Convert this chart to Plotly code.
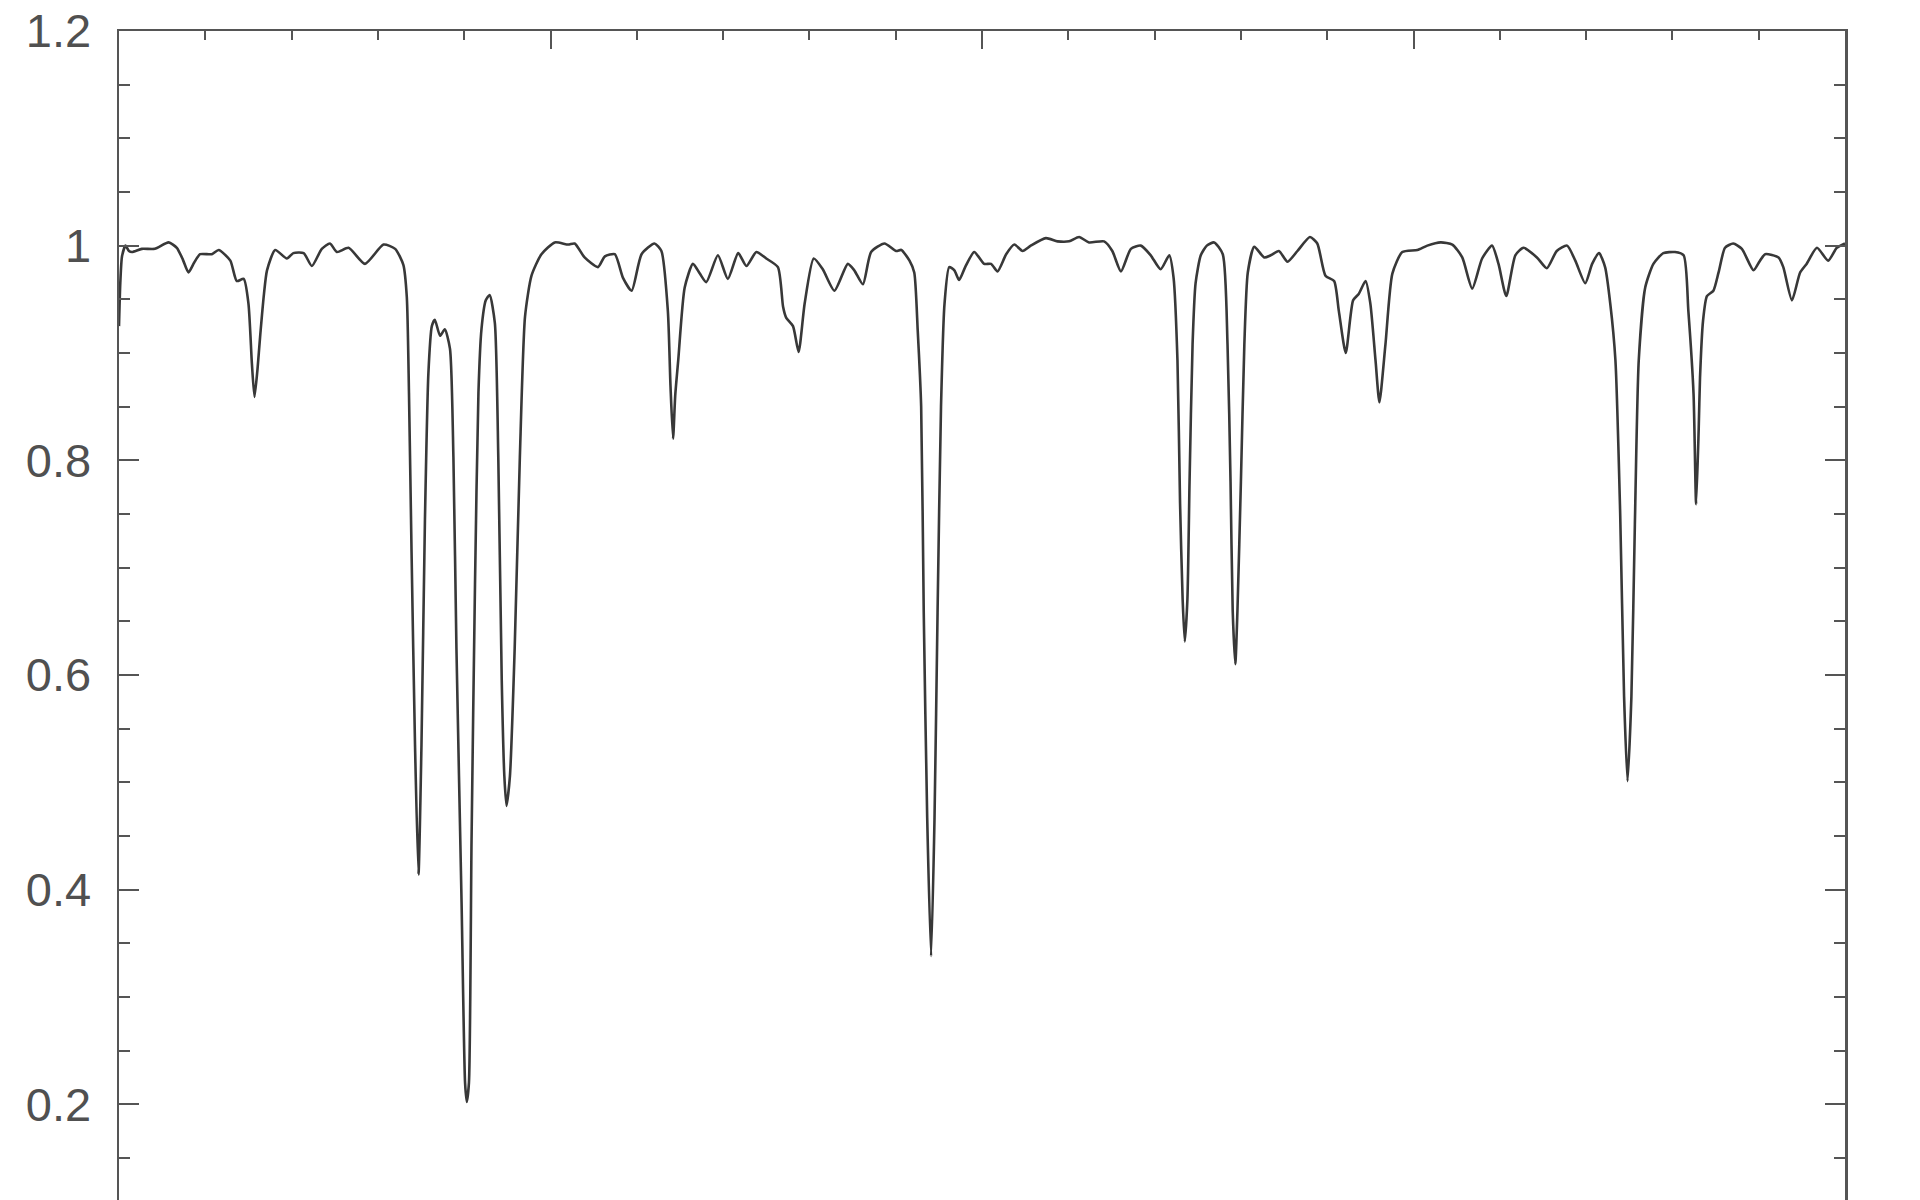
import plotly.graph_objects as go

# Wavelength (arbitrary Å scale) and normalized flux
wavelength = [
    6100.00, 6100.03, 6100.07, 6100.15, 6100.23, 6100.30, 6100.53, 6100.83, 6101.15, 6101.34,
    6101.48, 6101.61, 6101.74, 6101.88, 6102.15, 6102.31, 6102.58, 6102.73, 6102.89, 6103.00,
    6103.08, 6103.14, 6103.21, 6103.27, 6103.36, 6103.43, 6103.62, 6103.89, 6104.04, 6104.28,
    6104.47, 6104.70, 6104.89, 6105.05, 6105.32, 6105.70, 6106.13, 6106.40, 6106.59, 6106.67,
    6106.72, 6106.78, 6106.86, 6106.94, 6107.01, 6107.09, 6107.17, 6107.25, 6107.32, 6107.44,
    6107.55, 6107.67, 6107.75, 6107.82, 6107.94, 6108.02, 6108.06, 6108.11, 6108.17, 6108.25,
    6108.33, 6108.40, 6108.50, 6108.59, 6108.71, 6108.79, 6108.87, 6108.93, 6108.98, 6109.06,
    6109.17, 6109.29, 6109.41, 6109.56, 6109.79, 6110.10, 6110.41, 6110.56, 6110.79, 6111.10,
    6111.26, 6111.49, 6111.68, 6111.88, 6112.11, 6112.41, 6112.57, 6112.72, 6112.78, 6112.84,
    6112.89, 6112.96, 6113.11, 6113.30, 6113.46, 6113.61, 6113.88, 6114.11, 6114.35, 6114.54,
    6114.77, 6115.00, 6115.27, 6115.39, 6115.46, 6115.62, 6115.75, 6115.89, 6116.10, 6116.31,
    6116.58, 6116.89, 6117.04, 6117.24, 6117.43, 6117.74, 6118.01, 6118.13, 6118.32, 6118.43,
    6118.51, 6118.59, 6118.65, 6118.73, 6118.82, 6118.90, 6118.97, 6119.05, 6119.13, 6119.24,
    6119.36, 6119.47, 6119.61, 6119.82, 6120.05, 6120.21, 6120.36, 6120.56, 6120.75, 6120.94,
    6121.13, 6121.48, 6121.75, 6122.02, 6122.25, 6122.48, 6122.83, 6123.02, 6123.22, 6123.45,
    6123.68, 6123.91, 6124.14, 6124.34, 6124.44, 6124.53, 6124.59, 6124.65, 6124.70, 6124.76,
    6124.81, 6124.88, 6124.95, 6125.07, 6125.21, 6125.38, 6125.58, 6125.69, 6125.76, 6125.81,
    6125.87, 6125.92, 6126.00, 6126.08, 6126.16, 6126.31, 6126.54, 6126.69, 6126.88, 6127.08,
    6127.31, 6127.60, 6127.77, 6127.96, 6128.16, 6128.27, 6128.43, 6128.60, 6128.73, 6128.89,
    6129.00, 6129.12, 6129.21, 6129.35, 6129.51, 6129.74, 6130.09, 6130.32, 6130.63, 6130.90,
    6131.13, 6131.36, 6131.59, 6131.82, 6131.97, 6132.15, 6132.36, 6132.55, 6132.86, 6133.09,
    6133.32, 6133.56, 6133.75, 6133.98, 6134.14, 6134.30, 6134.44, 6134.56, 6134.68, 6134.79,
    6134.88, 6134.96, 6135.05, 6135.13, 6135.22, 6135.37, 6135.56, 6135.79, 6136.06, 6136.26,
    6136.37, 6136.49, 6136.55, 6136.61, 6136.64, 6136.71, 6136.80, 6136.95, 6137.07, 6137.22,
    6137.41, 6137.61, 6137.88, 6138.03, 6138.15, 6138.46, 6138.57, 6138.77, 6138.96, 6139.11,
    6139.35, 6139.61, 6139.81, 6140.00,
]

flux = [
    0.925, 0.965, 0.990, 1.000, 0.995, 0.994, 0.997, 0.997, 1.003, 0.998,
    0.987, 0.975, 0.984, 0.992, 0.992, 0.996, 0.986, 0.967, 0.969, 0.946,
    0.890, 0.859, 0.885, 0.915, 0.955, 0.977, 0.996, 0.988, 0.993, 0.993,
    0.981, 0.997, 1.002, 0.994, 0.998, 0.983, 1.001, 0.997, 0.982, 0.952,
    0.863, 0.714, 0.535, 0.414, 0.535, 0.744, 0.881, 0.925, 0.931, 0.916,
    0.922, 0.904, 0.803, 0.625, 0.386, 0.220, 0.202, 0.220, 0.446, 0.684,
    0.863, 0.922, 0.949, 0.954, 0.928, 0.803, 0.595, 0.506, 0.478, 0.506,
    0.625, 0.803, 0.934, 0.972, 0.992, 1.003, 1.001, 1.002, 0.989, 0.980,
    0.990, 0.992, 0.970, 0.958, 0.992, 1.002, 0.995, 0.939, 0.870, 0.820,
    0.860, 0.893, 0.961, 0.983, 0.974, 0.966, 0.991, 0.969, 0.993, 0.981,
    0.994, 0.988, 0.980, 0.943, 0.933, 0.925, 0.901, 0.946, 0.988, 0.978,
    0.958, 0.983, 0.977, 0.964, 0.994, 1.002, 0.995, 0.996, 0.986, 0.975,
    0.921, 0.850, 0.658, 0.467, 0.338, 0.467, 0.658, 0.850, 0.945, 0.980,
    0.977, 0.968, 0.980, 0.994, 0.983, 0.983, 0.976, 0.992, 1.001, 0.995,
    1.000, 1.007, 1.004, 1.004, 1.008, 1.003, 1.004, 0.995, 0.976, 0.997,
    1.000, 0.991, 0.978, 0.991, 0.970, 0.893, 0.760, 0.670, 0.631, 0.670,
    0.780, 0.908, 0.965, 0.991, 1.000, 1.003, 0.992, 0.908, 0.780, 0.660,
    0.610, 0.660, 0.780, 0.908, 0.975, 0.999, 0.989, 0.991, 0.995, 0.985,
    0.995, 1.008, 1.002, 0.972, 0.967, 0.939, 0.900, 0.949, 0.955, 0.967,
    0.946, 0.893, 0.854, 0.908, 0.974, 0.994, 0.996, 1.000, 1.003, 1.001,
    0.989, 0.960, 0.988, 1.000, 0.983, 0.953, 0.991, 0.998, 0.989, 0.979,
    0.995, 1.000, 0.986, 0.965, 0.983, 0.993, 0.980, 0.946, 0.893, 0.750,
    0.580, 0.501, 0.580, 0.740, 0.893, 0.961, 0.983, 0.993, 0.994, 0.991,
    0.939, 0.862, 0.759, 0.830, 0.877, 0.930, 0.953, 0.958, 0.975, 0.998,
    1.002, 0.997, 0.977, 0.986, 0.992, 0.989, 0.980, 0.949, 0.975, 0.983,
    0.998, 0.986, 0.998, 1.002,
]

y_tick_vals = [0.2, 0.4, 0.6, 0.8, 1.0, 1.2]
y_tick_text = ["0.2", "0.4", "0.6", "0.8", "1", "1.2"]

axis_color = "#555555"

fig = go.Figure()
fig.add_trace(go.Scatter(
    x=wavelength, y=flux, mode="lines",
    line=dict(color="#383838", width=2.6, shape="spline", smoothing=0.6),
    hoverinfo="skip", showlegend=False,
))

fig.update_layout(
    width=1920, height=1200,
    margin=dict(l=119, r=75, t=31, b=0, pad=0),
    paper_bgcolor="white", plot_bgcolor="white",
    font=dict(family="Liberation Sans, Arial, sans-serif", size=47, color="#505050"),
    xaxis=dict(
        range=[6100, 6140], side="top",
        showline=True, linecolor=axis_color, linewidth=2.5, mirror=False,
        showgrid=False, zeroline=False,
        ticks="inside", tickcolor=axis_color, tickwidth=2, ticklen=18,
        dtick=10, tick0=6100, showticklabels=False,
        minor=dict(ticks="inside", dtick=2, ticklen=9, tickcolor=axis_color,
                   tickwidth=2, showgrid=False),
    ),
    yaxis=dict(
        range=[0.1107, 1.2],
        showline=True, linecolor=axis_color, linewidth=2.5, mirror="ticks",
        showgrid=False, zeroline=False,
        ticks="inside", tickcolor=axis_color, tickwidth=2, ticklen=20,
        tickvals=y_tick_vals, ticktext=y_tick_text,
        ticklabelstandoff=16,
        minor=dict(ticks="inside", dtick=0.05, tick0=0, ticklen=11,
                   tickcolor=axis_color, tickwidth=2, showgrid=False),
    ),
)

fig.write_html(
    "out.html",
    config={"displayModeBar": False, "staticPlot": True},
    post_script="document.body.style.margin='0';document.body.style.overflow='hidden';",
)
